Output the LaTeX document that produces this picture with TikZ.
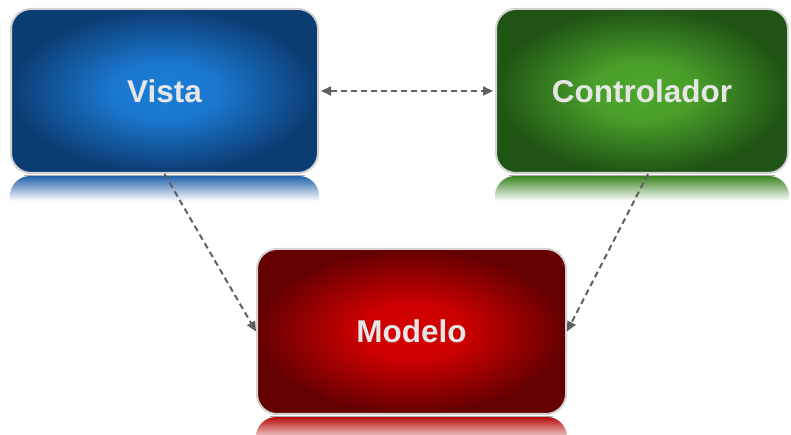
\documentclass[tikz,border=0pt]{standalone}
\usepackage{fontspec}
\setmainfont{Liberation Sans}
\usetikzlibrary{arrows.meta,calc,shadows}

\definecolor{vistain}{HTML}{1B7ED8}
\definecolor{vistaout}{HTML}{0C3D72}
\definecolor{vistarefl}{HTML}{2262AC}
\definecolor{ctrlin}{HTML}{4DA82C}
\definecolor{ctrlout}{HTML}{205414}
\definecolor{ctrlrefl}{HTML}{3A8422}
\definecolor{modin}{HTML}{D80000}
\definecolor{modout}{HTML}{640000}
\definecolor{modrefl}{HTML}{B80C0C}
\definecolor{labeltext}{HTML}{E6E6E6}
\definecolor{linkgray}{HTML}{606060}

% glow from the centre: a brighter plateau, darkening towards the rim
\pgfdeclareradialshading{vistaglow}{\pgfpoint{0bp}{0bp}}{%
  color(0bp)=(vistain); color(9bp)=(vistain!88!vistaout);
  color(25bp)=(vistaout); color(50bp)=(vistaout)}
\pgfdeclareradialshading{ctrlglow}{\pgfpoint{0bp}{0bp}}{%
  color(0bp)=(ctrlin); color(9bp)=(ctrlin!88!ctrlout);
  color(25bp)=(ctrlout); color(50bp)=(ctrlout)}
\pgfdeclareradialshading{modglow}{\pgfpoint{0bp}{0bp}}{%
  color(0bp)=(modin); color(9bp)=(modin!88!modout);
  color(25bp)=(modout); color(50bp)=(modout)}

\tikzset{
  x=1pt, y=1pt,
  box/.style={rounded corners=20pt, draw=gray!35, line width=2pt,
    drop shadow={shadow xshift=0pt, shadow yshift=-1pt, opacity=0.18},
    text=labeltext, font=\fontsize{31.5}{36}\selectfont\bfseries,
    inner sep=0pt},
  link/.style={draw=linkgray, line width=2pt, dash pattern=on 6pt off 4pt,
    -{Triangle[length=10pt,width=9pt]}},
  biglink/.style={link, {Triangle[length=10pt,width=9pt]}-{Triangle[length=10pt,width=9pt]}}
}

% mirrored band under a box: rounded top corners, fading to white
\newcommand\mirrorband[2]{%
  \shade[top color=#2, middle color=#2!70, bottom color=white]
    let \p1=(#1.south west), \p2=(#1.south east) in
    (\x1,\y1-27pt) -- (\x1,\y1-22pt)
    arc[start angle=180,end angle=90,radius=20pt]
    -- (\x2-20pt,\y1-2pt)
    arc[start angle=90,end angle=0,radius=20pt]
    -- (\x2,\y1-27pt) -- cycle;
  \draw[gray!65, line width=1pt]
    ([xshift=14pt,yshift=-1.5pt]#1.south west) -- ([xshift=-14pt,yshift=-1.5pt]#1.south east);
}

\begin{document}
\begin{tikzpicture}
\useasboundingbox (0,0) rectangle (791,435);

\node[box, minimum width=307pt, minimum height=164pt,
      shading=vistaglow] (V) at (164.5,344) {Vista};
\node[box, minimum width=292pt, minimum height=164pt,
      shading=ctrlglow] (C) at (642,344) {Controlador};
\node[box, minimum width=309pt, minimum height=165pt,
      shading=modglow] (M) at (411.5,103.5) {Modelo};

\mirrorband{V}{vistarefl}
\mirrorband{C}{ctrlrefl}
\begin{scope}
  \clip (0,0) rectangle (791,435);
  \mirrorband{M}{modrefl}
\end{scope}

\draw[biglink, shorten <=2pt, shorten >=2pt] (V.east) -- (C.west);
\draw[link] (V.south) -- (M.west);
\draw[link] ([xshift=6pt]C.south) -- (M.east);
\end{tikzpicture}
\end{document}
